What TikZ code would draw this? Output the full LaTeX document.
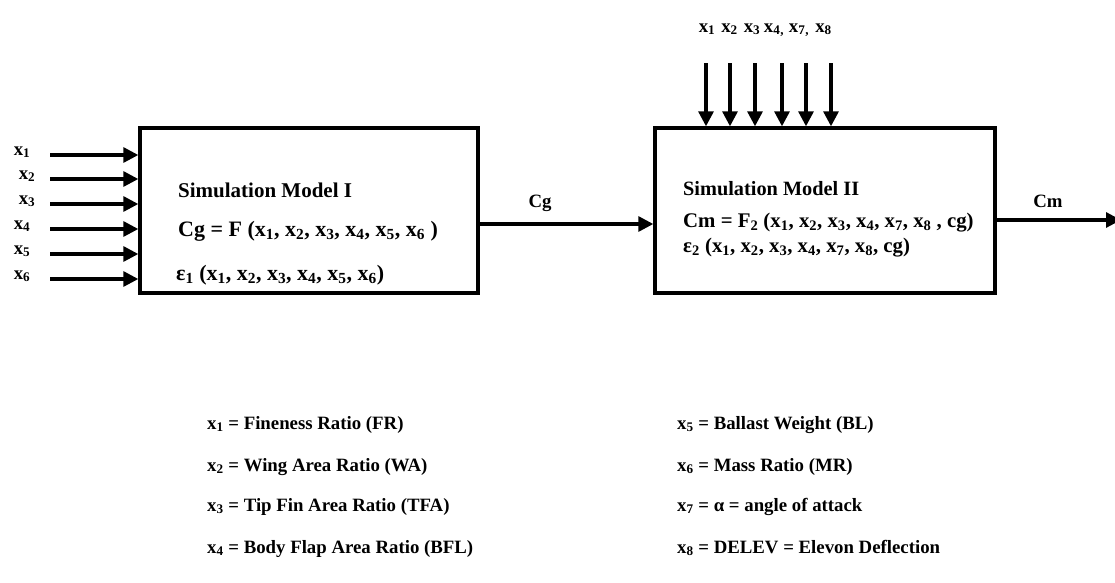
\documentclass[tikz,border=0pt]{standalone}
\usepackage{fontspec}
\setmainfont{Liberation Serif}
\usetikzlibrary{arrows.meta}
\newcommand\xv[1]{x\textsubscript{#1}}
\begin{document}
\begin{tikzpicture}[x=1pt,y=-1pt,
  txt/.style={font=\fontsize{18.8}{22}\selectfont\bfseries, inner sep=0pt},
  ttl/.style={font=\fontsize{21}{24}\selectfont\bfseries, inner sep=0pt},
  btxt/.style={font=\fontsize{22}{26}\selectfont\bfseries, inner sep=0pt},
  ttlr/.style={font=\fontsize{20.3}{24}\selectfont\bfseries, inner sep=0pt},
  btxtr/.style={font=\fontsize{20.8}{24}\selectfont\bfseries, inner sep=0pt},
  blk/.style={draw, line width=3.4pt, minimum height=165pt, inner sep=0pt},
  arr/.style={line width=3.1pt, -{Triangle[length=15pt,width=15pt]}}]
\useasboundingbox (0,0) rectangle (1115,582);
% boxes
\node[blk, minimum width=338pt] (m1) at (309,210.5) {};
\node[blk, minimum width=340pt] (m2) at (825,210.5) {};
% box texts
\node[ttl, anchor=base west] (t1) at (178,197) {Simulation Model I};
\node[btxt, anchor=base west] (t2) at (178,236) {Cg = F (\xv{1}, \xv{2}, \xv{3}, \xv{4}, \xv{5}, \xv{6} )};
\node[btxt, anchor=base west] (t3) at (176,280) {ε\textsubscript{1} (\xv{1}, \xv{2}, \xv{3}, \xv{4}, \xv{5}, \xv{6})};
\node[ttlr, anchor=base west] (t4) at (683,195) {Simulation Model II};
\node[btxtr, anchor=base west] (t5) at (683,227) {Cm = F\textsubscript{2} (\xv{1}, \xv{2}, \xv{3}, \xv{4}, \xv{7}, \xv{8} , cg)};
\node[btxtr, anchor=base west] (t6) at (683,252) {ε\textsubscript{2} (\xv{1}, \xv{2}, \xv{3}, \xv{4}, \xv{7}, \xv{8}, cg)};
% left inputs
\foreach \i/\y/\lx in {1/155/22,2/179/27,3/204/27,4/229/22,5/254/22,6/279/22}{
  \coordinate (s\i) at (50,\y);
  \draw[arr] (s\i) -- (s\i -| m1.west);
  \node[txt, anchor=base] (l\i) at (\lx,\y) {\xv{\i}};
}
% top inputs
\foreach \i/\x/\lx/\lab in {1/706/707/\xv{1},2/730/729.5/\xv{2},3/755/752/\xv{3},4/782/774/\xv{4}\textsubscript{,},7/806/799/\xv{7}\textsubscript{,},8/831/823.5/\xv{8}}{
  \coordinate (u\i) at (\x,63);
  \draw[arr] (u\i) -- (u\i |- m2.north);
  \node[txt, anchor=base] (v\i) at (\lx,32) {\lab};
}
% Cg, Cm
\coordinate (cg) at (560,224);
\draw[arr] (m1.east |- cg) -- (m2.west |- cg);
\node[txt, anchor=base] (cgl) at (540,207) {Cg};
\coordinate (cmend) at (1121,220);
\draw[arr] (m2.east |- cmend) -- (cmend);
\node[txt, anchor=base] (cml) at (1048,207) {Cm};
% legend
\node[txt, anchor=base west] (g1) at (207,429) {\xv{1} = Fineness Ratio (FR)};
\node[txt, anchor=base west] (g2) at (207,471) {\xv{2} = Wing Area Ratio (WA)};
\node[txt, anchor=base west] (g3) at (207,511) {\xv{3} = Tip Fin Area Ratio (TFA)};
\node[txt, anchor=base west] (g4) at (207,553) {\xv{4} = Body Flap Area Ratio (BFL)};
\node[txt, anchor=base west] (g5) at (677,429) {\xv{5} = Ballast Weight (BL)};
\node[txt, anchor=base west] (g6) at (677,471) {\xv{6} = Mass Ratio (MR)};
\node[txt, anchor=base west] (g7) at (677,511) {\xv{7} = α = angle of attack};
\node[txt, anchor=base west] (g8) at (677,553) {\xv{8} = DELEV = Elevon Deflection};
\end{tikzpicture}
\end{document}
